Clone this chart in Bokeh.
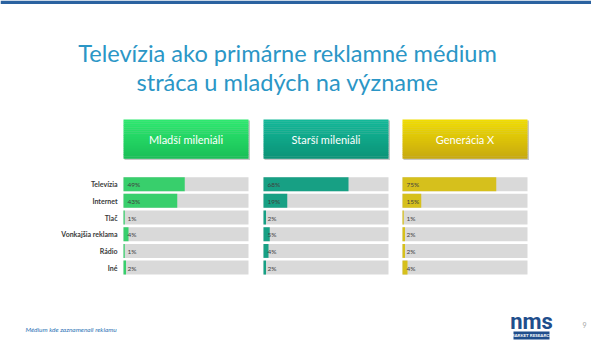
from bokeh.plotting import figure
from bokeh.models import Range1d
from bokeh.core.properties import value
from bokeh.embed import file_html
from bokeh.resources import INLINE

# ---------------- data ----------------
title_lines = ["Televízia ako primárne reklamné médium", "stráca u mladých na význame"]
categories = ["Televízia", "Internet", "Tlač", "Vonkajšia reklama", "Rádio", "Iné"]
groups = ["Mladší mileniáli", "Starší mileniáli", "Generácia X"]
mladsi = [49, 43, 1, 4, 1, 2]
starsi = [68, 19, 2, 5, 4, 2]
generacia_x = [75, 15, 1, 2, 2, 4]
footnote = "Médium kde zaznamenali reklamu"
page_number = "9"
logo_text = "nms"
logo_sub = "MARKET RESEARCH"

# ---------------- style / layout ----------------
W, H = 591, 353
FONT = "Lato"
panel_left = [123, 263, 402]
panel_w = 125
head_top, head_bot = 119, 158
row0, row_step, bar_h = 183.7, 16.67, 14
head_top_col = [(0x2c, 0xe8, 0x6e), (0x12, 0xb8, 0x98), (0xf0, 0xdc, 0x00)]
head_bot_col = [(0x1a, 0xc0, 0x58), (0x0c, 0x94, 0x78), (0xc8, 0xaa, 0x10)]
bar_col = ["#38cf6c", "#17a084", "#d6c01c"]
gray = "#d9d9d9"

p = figure(width=W, height=H, x_range=Range1d(0, W), y_range=Range1d(H, 0),
           output_backend="svg", toolbar_location=None, min_border=0)
p.axis.visible = False
p.grid.visible = False
p.outline_line_color = None
p.background_fill_color = "white"
p.border_fill_color = "white"

# top band
p.quad(left=[0], right=[W], top=[0], bottom=[3.5], fill_color="#2a62a0", line_color=None)

# title
p.text(x=[287, 287], y=[52, 81], text=title_lines, text_font=value(FONT),
       text_font_size="23.6px", text_color="#2b96c6", text_align="center",
       text_baseline="middle")


def hexc(c):
    return "#%02x%02x%02x" % c


series = [mladsi, starsi, generacia_x]
n_strip = 20
for gi, (g, vals) in enumerate(zip(groups, series)):
    x0 = panel_left[gi]
    x1 = x0 + panel_w
    # shadow
    p.quad(left=[x0 + 1], right=[x1 + 1.5], top=[head_top + 1], bottom=[head_bot + 1.5],
           fill_color="#c8c8c8", line_color=None)
    # gradient header
    lefts, rights, tops, bots, cols = [], [], [], [], []
    for k in range(n_strip):
        t = k / (n_strip - 1)
        c = tuple(int(round(a + (b - a) * t)) for a, b in zip(head_top_col[gi], head_bot_col[gi]))
        y0 = head_top + (head_bot - head_top) * k / n_strip
        y1 = head_top + (head_bot - head_top) * (k + 1) / n_strip
        lefts.append(x0); rights.append(x1); tops.append(y0); bots.append(y1 + 0.3)
        cols.append(hexc(c))
    p.quad(left=lefts, right=rights, top=tops, bottom=bots, fill_color=cols, line_color=None)
    p.text(x=[(x0 + x1) / 2], y=[(head_top + head_bot) / 2], text=[g], text_font=value(FONT),
           text_font_size="11px", text_color="white", text_align="center", text_baseline="middle")

    ys = [row0 + i * row_step for i in range(len(categories))]
    # gray background
    p.quad(left=[x0] * len(ys), right=[x1] * len(ys),
           top=[y - bar_h / 2 for y in ys], bottom=[y + bar_h / 2 for y in ys],
           fill_color=gray, line_color=None)
    # value bars
    p.quad(left=[x0] * len(ys), right=[x0 + v / 100 * panel_w for v in vals],
           top=[y - bar_h / 2 for y in ys], bottom=[y + bar_h / 2 for y in ys],
           fill_color=bar_col[gi], line_color=None)
    p.text(x=[x0 + 4] * len(ys), y=[y + 0.5 for y in ys], text=[f"{v}%" for v in vals],
           text_font=value(FONT), text_font_size="6.5px", text_color="#404040",
           text_baseline="middle")

# category labels
ys = [row0 + i * row_step for i in range(len(categories))]
p.text(x=[117] * len(ys), y=ys, text=categories, text_font=value(FONT),
       text_font_size="7px", text_font_style="bold", text_color="#3a3a3a",
       text_align="right", text_baseline="middle")

# footnote
p.text(x=[25], y=[329], text=[footnote], text_font=value(FONT), text_font_size="6.5px",
       text_font_style="italic", text_color="#2e75b6", text_baseline="middle")

# logo
p.text(x=[531], y=[321], text=[logo_text], text_font=value("Roboto"), text_font_size="22px",
       text_font_style="bold", text_color="#1f4e8c", text_align="center", text_baseline="middle")
p.quad(left=[513], right=[549], top=[331], bottom=[339], fill_color="#1f4e8c", line_color=None)
p.text(x=[531], y=[335.2], text=[logo_sub], text_font=value(FONT), text_font_size="4.5px",
       text_font_style="bold", text_color="white", text_align="center", text_baseline="middle")
p.text(x=[584], y=[324], text=[page_number], text_font=value(FONT), text_font_size="7px",
       text_color="#a6a6a6", text_align="center", text_baseline="middle")

open("out.html", "w").write(file_html(p, INLINE))
